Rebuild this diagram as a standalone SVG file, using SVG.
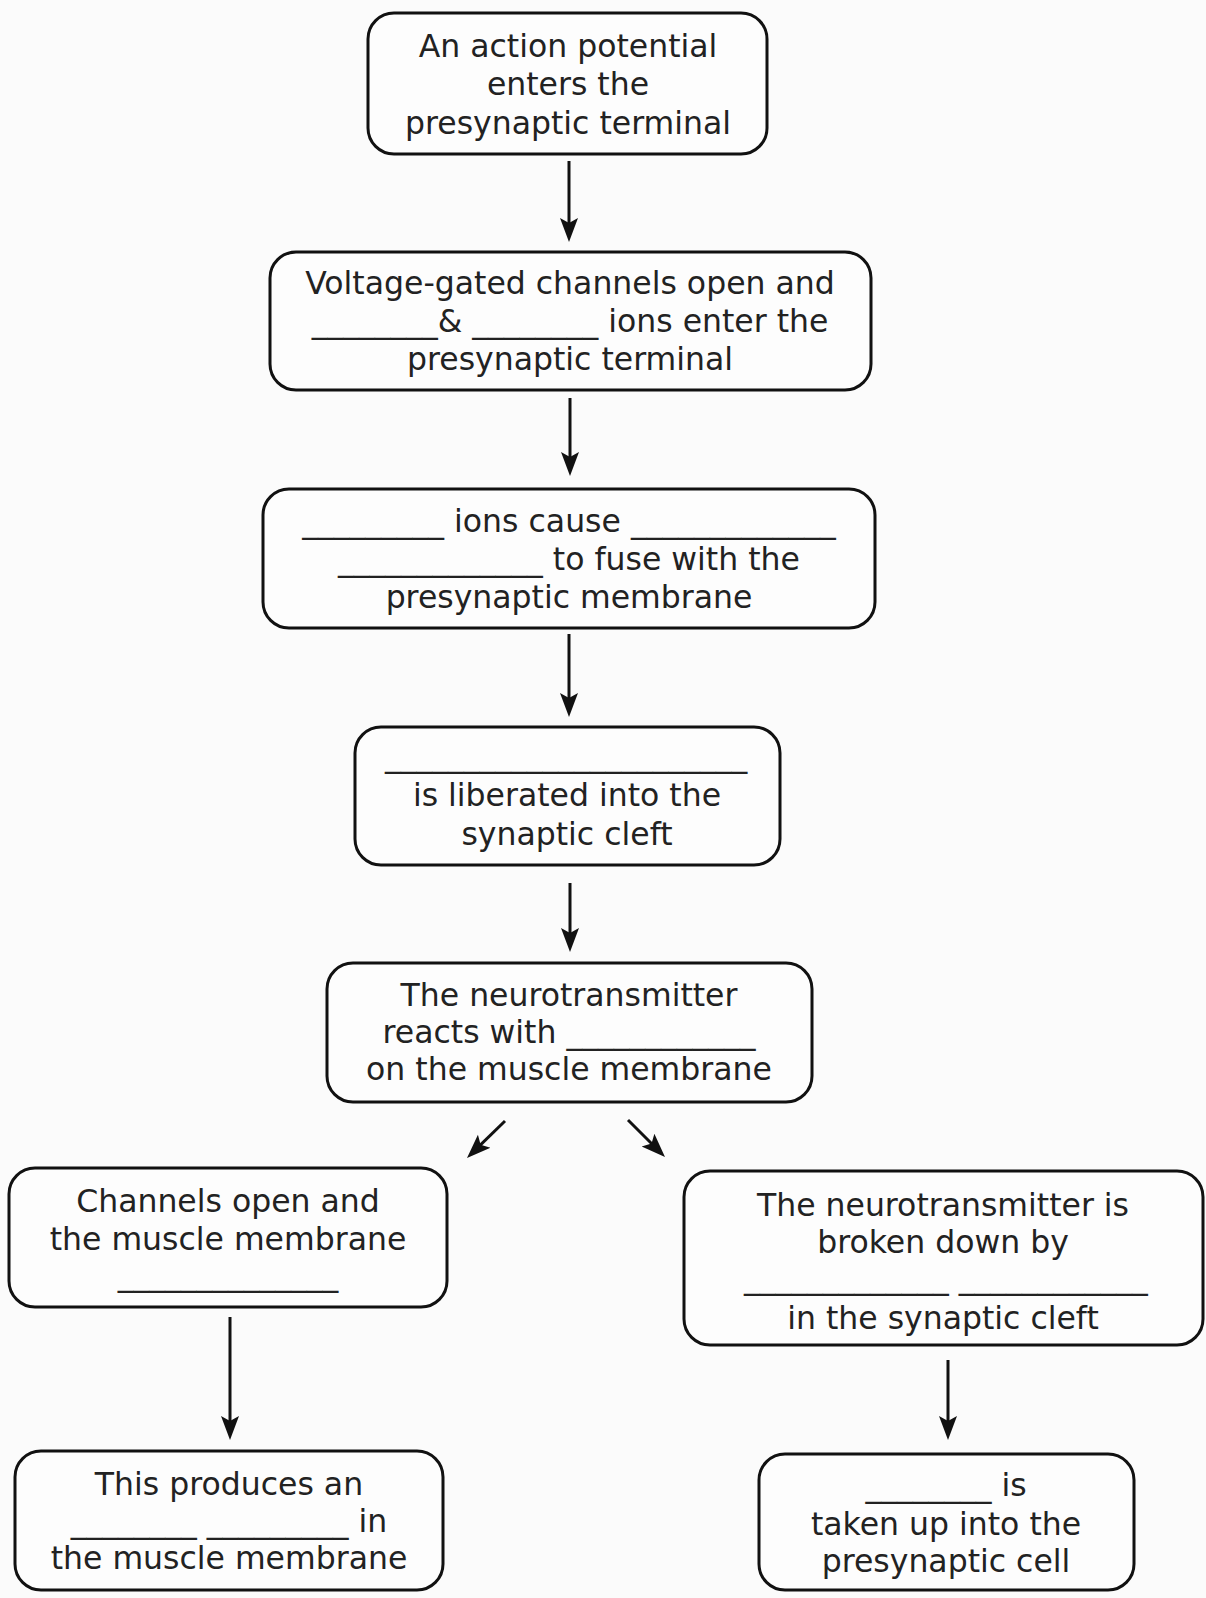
<svg xmlns="http://www.w3.org/2000/svg" width="1206" height="1598" viewBox="0 0 1206 1598">
<style>
.box{fill:#fdfdfd;stroke:#111;stroke-width:3}
.t{font-family:"DejaVu Sans","Verdana",sans-serif;font-size:31.5px;fill:#222;text-anchor:middle}
.c{fill:none;stroke:#111;stroke-width:3}
</style>
<defs>
<marker id="ah" markerUnits="userSpaceOnUse" viewBox="0 0 24 20" refX="12" refY="10" markerWidth="24" markerHeight="20" orient="auto">
<path d="M0,1 L24,10 L0,19 L5,10 Z" fill="#111"/>
</marker>
</defs>
<rect width="1206" height="1598" fill="#fbfbfb"/>
<g id="n1"><rect class="box" x="368" y="13" width="399" height="141" rx="26"/>
<text class="t" x="568" y="57">An action potential</text>
<text class="t" x="568" y="95">enters the</text>
<text class="t" x="568" y="134">presynaptic terminal</text></g>
<g id="n2"><rect class="box" x="270" y="252" width="601" height="138" rx="26"/>
<text class="t" x="570" y="294">Voltage-gated channels open and</text>
<text class="t" x="570" y="332">________&amp; ________ ions enter the</text>
<text class="t" x="570" y="370">presynaptic terminal</text></g>
<g id="n3"><rect class="box" x="263" y="489" width="612" height="139" rx="26"/>
<text class="t" x="569" y="532">_________ ions cause _____________</text>
<text class="t" x="569" y="570">_____________ to fuse with the</text>
<text class="t" x="569" y="608">presynaptic membrane</text></g>
<g id="n4"><rect class="box" x="355" y="727" width="425" height="138" rx="26"/>
<text class="t" x="566" y="766">_______________________</text>
<text class="t" x="567" y="806">is liberated into the</text>
<text class="t" x="567" y="845">synaptic cleft</text></g>
<g id="n5"><rect class="box" x="327" y="963" width="485" height="139" rx="26"/>
<text class="t" x="569" y="1006">The neurotransmitter</text>
<text class="t" x="569" y="1043">reacts with ____________</text>
<text class="t" x="569" y="1080">on the muscle membrane</text></g>
<g id="n6"><rect class="box" x="9" y="1168" width="438" height="139" rx="26"/>
<text class="t" x="228" y="1212">Channels open and</text>
<text class="t" x="228" y="1250">the muscle membrane</text>
<text class="t" x="228" y="1285">______________</text></g>
<g id="n7"><rect class="box" x="15" y="1451" width="428" height="139" rx="26"/>
<text class="t" x="229" y="1495">This produces an</text>
<text class="t" x="229" y="1532">________ _________ in</text>
<text class="t" x="229" y="1569">the muscle membrane</text></g>
<g id="n8"><rect class="box" x="684" y="1171" width="519" height="174" rx="26"/>
<text class="t" x="943" y="1216">The neurotransmitter is</text>
<text class="t" x="943" y="1253">broken down by</text>
<text class="t" x="946" y="1288">_____________ ____________</text>
<text class="t" x="943" y="1329">in the synaptic cleft</text></g>
<g id="n9"><rect class="box" x="759" y="1454" width="375" height="136" rx="26"/>
<text class="t" x="946" y="1496">________ is</text>
<text class="t" x="946" y="1535">taken up into the</text>
<text class="t" x="946" y="1572">presynaptic cell</text></g>
<g id="connectors">
<path class="c" d="M569,161 L569,230" marker-end="url(#ah)"/>
<path class="c" d="M570,398 L570,464" marker-end="url(#ah)"/>
<path class="c" d="M569,634 L569,705" marker-end="url(#ah)"/>
<path class="c" d="M570,883 L570,940" marker-end="url(#ah)"/>
<path class="c" d="M505,1121 L475.6,1149.6" marker-end="url(#ah)"/>
<path class="c" d="M628,1120 L656.5,1148.5" marker-end="url(#ah)"/>
<path class="c" d="M230,1317 L230,1428" marker-end="url(#ah)"/>
<path class="c" d="M948,1360 L948,1428" marker-end="url(#ah)"/>
</g>
</svg>
